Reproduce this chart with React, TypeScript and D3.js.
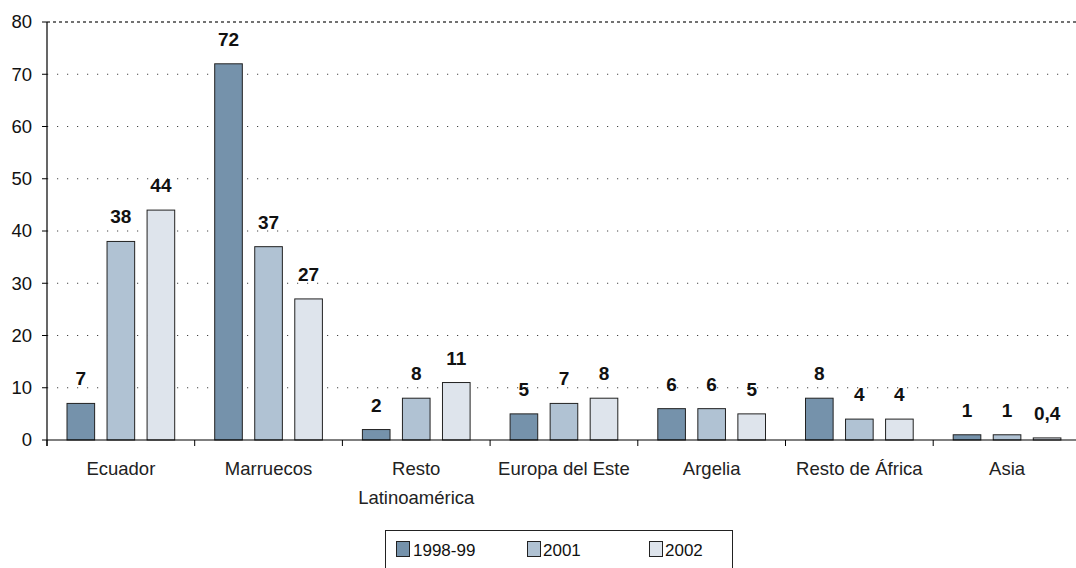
import React from "react";
import * as d3 from "d3";

const categories = ["Ecuador", "Marruecos", "Resto\nLatinoamérica", "Europa del Este", "Argelia", "Resto de África", "Asia"];
const seriesNames = ["1998-99", "2001", "2002"];
const s1998 = [7, 72, 2, 5, 6, 8, 1];
const s2001 = [38, 37, 8, 7, 6, 4, 1];
const s2002 = [44, 27, 11, 8, 5, 4, 0.4];
const yTicks = [0, 10, 20, 30, 40, 50, 60, 70, 80];
const colors = ["#7592AB", "#B0C2D3", "#DEE4EC"];

const W = 1076, H = 568;
const left = 47, bottom = 440, top = 22;
const bandW = 147.7;

export default function App() {
  const series = [s1998, s2001, s2002];
  const x = d3.scaleBand<string>().domain(categories).range([left, left + bandW * categories.length]).paddingInner(0).paddingOuter(0);
  const inner = d3.scaleBand<string>().domain(seriesNames).range([20, bandW - 20]).paddingInner(0.31).paddingOuter(0);
  const y = d3.scaleLinear().domain([0, 80]).range([bottom, top]);
  const font = "'Liberation Sans', Arial, sans-serif";
  const fmt = (v: number) => String(v).replace(".", ",");
  return (
    <svg width={W} height={H} style={{ position: "absolute", left: 0, top: 0, background: "#fff" }} fontFamily={font}>
      {yTicks.map((t) => (
        <g key={t}>
          {t > 0 && (
            <line x1={left} x2={W} y1={y(t)} y2={y(t)} stroke="#444" strokeWidth={t === 80 ? 1.3 : 1} strokeDasharray={t === 80 ? "3,3" : "1.2,8.8"} />
          )}
          <line x1={left - 5} x2={left} y1={y(t)} y2={y(t)} stroke="#000" />
          <text x={32} y={y(t)} dy="0.35em" textAnchor="end" fontSize={18.5} fill="#111">{t}</text>
        </g>
      ))}
      {categories.map((c, ci) => (
        <g key={c}>
          {series.map((s, si) => {
            const bx = (x(c) as number) + (inner(seriesNames[si]) as number);
            const bw = inner.bandwidth();
            const v = s[ci];
            return (
              <g key={si}>
                <rect x={bx} y={y(v)} width={bw} height={bottom - y(v)} fill={colors[si]} stroke="#222" strokeWidth={1} />
                <text x={bx + bw / 2} y={y(v) - 18} textAnchor="middle" fontSize={19} fontWeight="bold" fill="#111">{fmt(v)}</text>
              </g>
            );
          })}
          <line x1={x(c)} x2={x(c)} y1={bottom} y2={bottom + 6} stroke="#000" />
          <text x={(x(c) as number) + bandW / 2} y={475} textAnchor="middle" fontSize={18.5} fill="#222">
            {c.split("\n").map((ln, li) => (
              <tspan key={li} x={(x(c) as number) + bandW / 2} dy={li === 0 ? 0 : 28.5}>{ln}</tspan>
            ))}
          </text>
        </g>
      ))}
      <line x1={left} x2={W} y1={bottom} y2={bottom} stroke="#000" strokeWidth={1.2} />
      <line x1={left} x2={left} y1={top} y2={bottom + 6} stroke="#000" strokeWidth={1.2} />
      <g>
        <rect x={385.5} y={530.5} width={347} height={50} fill="#fff" stroke="#222" />
        {seriesNames.map((n, i) => {
          const sx = [396, 527, 649][i];
          const tx = [413, 543, 665][i];
          return (
            <g key={n}>
              <rect x={sx + 0.5} y={541.5} width={13} height={15} fill={colors[i]} stroke="#222" />
              <text x={tx} y={556} fontSize={17} fill="#111">{n}</text>
            </g>
          );
        })}
      </g>
    </svg>
  );
}
